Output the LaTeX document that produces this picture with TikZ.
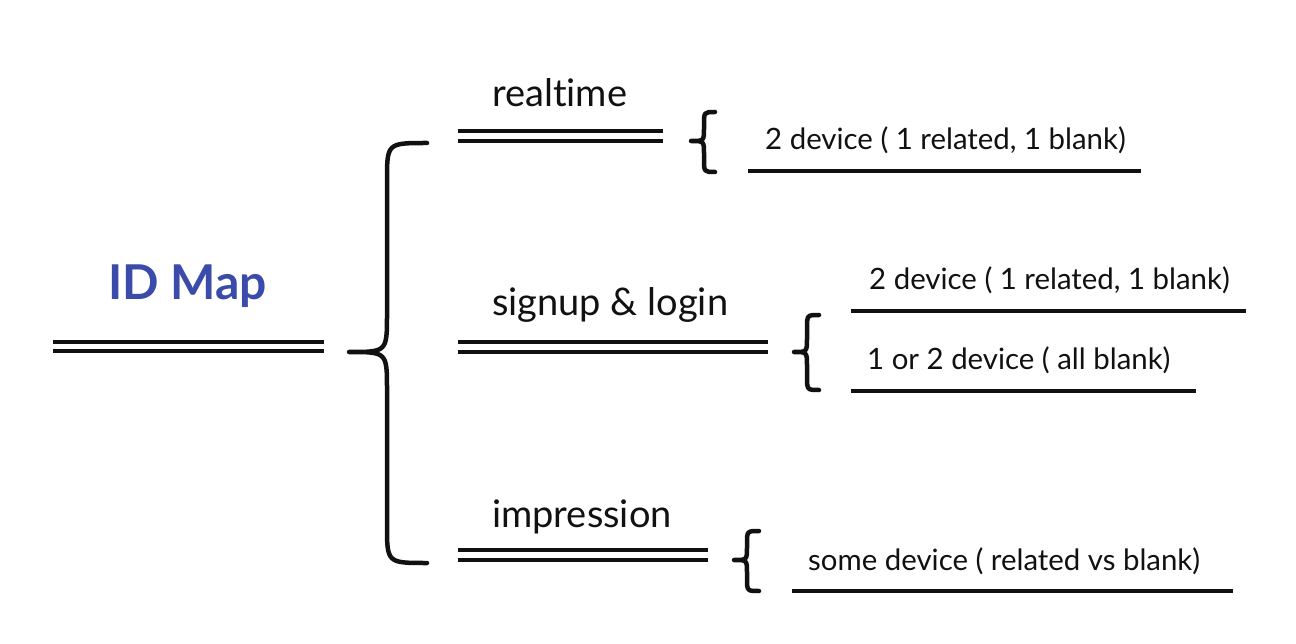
\documentclass[tikz,border=0pt]{standalone}
\usepackage{fontspec}
\setmainfont{Lato}[Ligatures={NoCommon,TeX}]
\definecolor{idblue}{HTML}{3A4BAA}
\definecolor{ink}{HTML}{111111}
\tikzset{
  dbl/.style={draw=ink, line width=4.5pt},
  uline/.style={draw=ink, line width=3.5pt},
  brc/.style={draw=ink, line width=4.5pt, line cap=round, line join=round},
  ttl/.style={anchor=base west, inner sep=0pt, font=\fontsize{38}{44}\selectfont, text=ink},
  sub/.style={anchor=base west, inner sep=0pt, font=\fontsize{29.4}{34}\selectfont, text=ink},
}
\newcommand\curlybrace[7]{% tipx, tipy, vx, ex, top, bottom, r
  \draw[brc] (#4,#5) .. controls (#3,#5) and (#3,#5) .. (#3,#5+#7)
    -- (#3,#2-#7) .. controls (#3,#2) and (#3,#2) .. (#1,#2)
    .. controls (#3,#2) and (#3,#2) .. (#3,#2+#7)
    -- (#3,#6-#7) .. controls (#3,#6) and (#3,#6) .. (#4,#6);}
\begin{document}
\begin{tikzpicture}[x=1pt,y=-1pt]
\useasboundingbox[fill=white] (0,0) rectangle (1296,644);
% root
\node[anchor=base west, inner sep=0pt, font=\fontsize{48}{54}\selectfont\bfseries, text=idblue] (root) at (108,300) {ID Map};
\draw[dbl] (53,342) -- (324,342);
\draw[dbl] (53,351) -- (324,351);
\curlybrace{349}{352}{387}{427}{143}{563}{38}
% realtime
\node[ttl] (rt) at (492,107) {realtime};
\draw[dbl] (458,131) -- (663,131);
\draw[dbl] (458,141) -- (663,141);
\curlybrace{691}{141}{704}{715}{112}{172}{13}
\node[sub] (rt1) at (765,150) {2 device ( 1 related, 1 blank)};
\draw[uline] (748,171) -- (1141,171);
% signup
\node[ttl] (sl) at (492,316) {signup \& login};
\draw[dbl] (458,342) -- (768,342);
\draw[dbl] (458,352) -- (768,352);
\curlybrace{794}{352}{807}{819}{315}{390}{14}
\node[sub] (sl1) at (869,290) {2 device ( 1 related, 1 blank)};
\draw[uline] (851,311) -- (1246,311);
\node[sub] (sl2) at (867,370) {1 or 2 device ( all blank)};
\draw[uline] (851,391) -- (1196,391);
% impression
\node[ttl] (im) at (492,527) {impression};
\draw[dbl] (458,550) -- (708,550);
\draw[dbl] (458,560) -- (708,560);
\curlybrace{734}{560}{747}{759}{531}{591}{13}
\node[sub] (im1) at (808,570) {some device ( related vs blank)};
\draw[uline] (792,591) -- (1233,591);
\end{tikzpicture}
\end{document}
